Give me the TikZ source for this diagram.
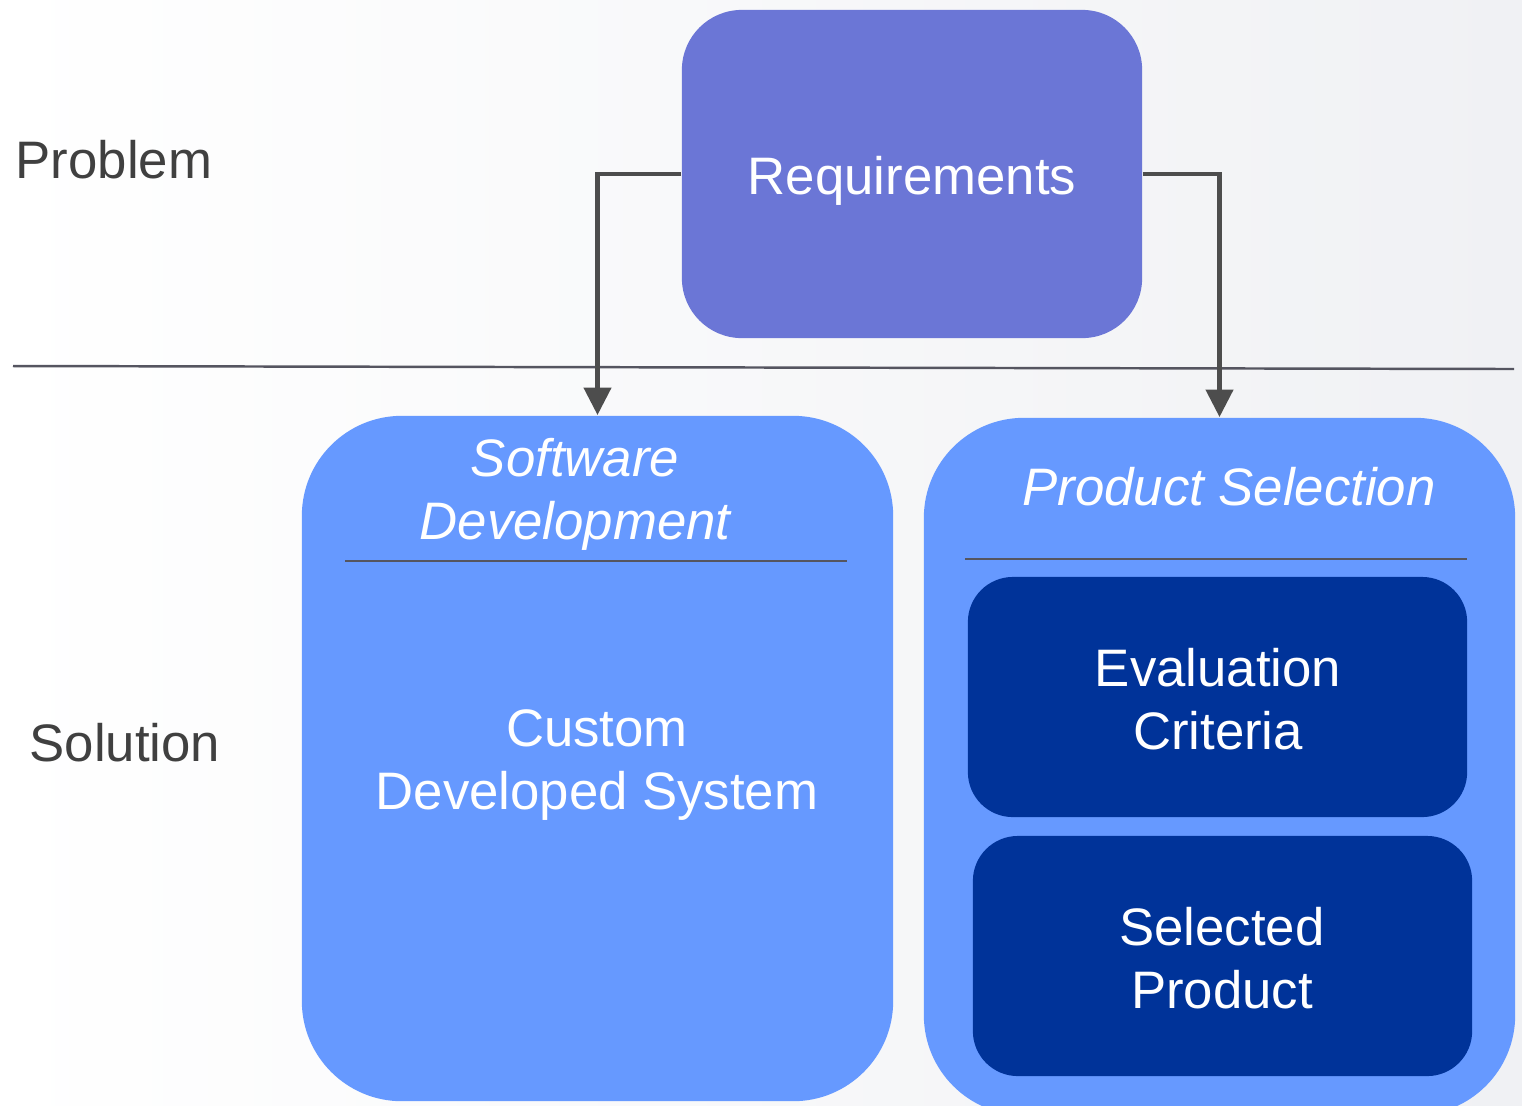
\documentclass[tikz,border=0pt]{standalone}
\usepackage{fontspec}
\setmainfont{Liberation Sans}
\usetikzlibrary{arrows.meta}
\definecolor{reqblue}{HTML}{6B76D6}
\definecolor{lightblue}{HTML}{6699FF}
\definecolor{darkblue}{HTML}{003399}
\definecolor{labelgray}{HTML}{404040}
\definecolor{linkgray}{HTML}{4D4D4D}
\definecolor{rulegray}{HTML}{555560}
\definecolor{bgright}{HTML}{F0F1F4}
\tikzset{
  txt/.style={font=\fontsize{15}{18}\selectfont, align=center, inner sep=0pt},
  wtxt/.style={txt, text=white},
  sidelabel/.style={txt, text=labelgray},
  box/.style={inner sep=0pt, draw=none},
  link/.style={draw=linkgray, line width=1.4pt,
    -{Triangle[width=7.6pt,length=7.8pt]}},
  rule/.style={draw=rulegray, line width=0.6pt}
}
\begin{document}
\begin{tikzpicture}[x=0.01cm, y=-0.01cm]
  % page and background
  \useasboundingbox (0,0) rectangle (1522,1105);
  \shade[left color=white, right color=bgright] (0,0) rectangle (1522,1105);

  % problem / solution divider
  \coordinate (divL) at (13,366);
  \coordinate (divR) at (1514,369);
  \draw[draw=rulegray, line width=0.7pt] (divL) -- (divR);

  % side labels
  \node[sidelabel] (problem) at (114,160) {Problem};
  \node[sidelabel] (solution) at (125,743) {Solution};

  % requirements box
  \node[box, fill=reqblue, rounded corners=0.6cm,
        minimum width=4.6cm, minimum height=3.28cm] (req) at (912,174) {};
  \node[wtxt] (reqtxt) at (912,181) {Requirements};

  % software development column
  \node[box, fill=lightblue, rounded corners=1.0cm,
        minimum width=5.91cm, minimum height=6.85cm] (sd) at (597.5,758.5) {};
  \node[wtxt, font=\fontsize{15}{18}\selectfont\itshape] (sdtitle) at (575,494) {Software\\Development};
  \coordinate (sdruleL) at (345,561);
  \coordinate (sdruleR) at (847,561);
  \draw[rule] (sdruleL) -- (sdruleR);
  \node[wtxt] (custom) at (597,765) {Custom\\Developed System};

  % product selection column
  \node[box, fill=lightblue, rounded corners=1.0cm,
        minimum width=5.91cm, minimum height=6.97cm] (ps) at (1219.5,766.5) {};
  \node[wtxt, font=\fontsize{15}{18}\selectfont\itshape] (pstitle) at (1229,487) {Product Selection};
  \coordinate (psruleL) at (965,559);
  \coordinate (psruleR) at (1467,559);
  \draw[rule] (psruleL) -- (psruleR);

  \node[box, fill=darkblue, rounded corners=0.45cm,
        minimum width=4.99cm, minimum height=2.40cm] (eval) at (1217.5,697) {};
  \node[wtxt] (evaltxt) at (1218,699) {Evaluation\\Criteria};

  \node[box, fill=darkblue, rounded corners=0.45cm,
        minimum width=4.99cm, minimum height=2.40cm] (sel) at (1222.5,956) {};
  \node[wtxt] (seltxt) at (1222,958) {Selected\\Product};

  % connectors
  \draw[link] (req.west) -| (sd.north);
  \draw[link] (req.east) -| (ps.north);
\end{tikzpicture}
\end{document}
